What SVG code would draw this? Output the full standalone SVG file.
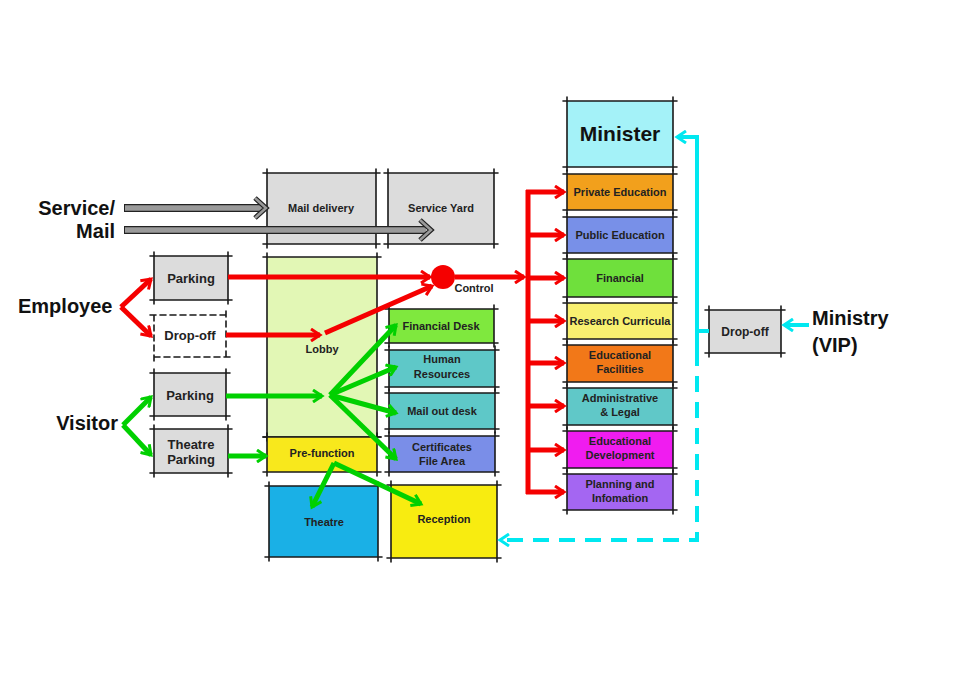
<svg xmlns="http://www.w3.org/2000/svg" width="955" height="700" viewBox="0 0 955 700">
<style>
.b{stroke:#1a1a1a;stroke-width:1.6;fill:none;stroke-linecap:round}
.t{font-family:"Liberation Sans",Arial,sans-serif;font-weight:bold;font-size:11px;fill:#222;text-anchor:middle}
.m{font-size:13px}
.big{font-family:"Liberation Sans",Arial,sans-serif;font-weight:bold;font-size:20px;fill:#111}
.r{stroke:#f50000;stroke-width:5;fill:none}
.g{stroke:#00d000;stroke-width:5;fill:none}
.c{stroke:#00e8f0;stroke-width:4;fill:none}
.gy{fill:#dcdcdc}
</style>
<defs>
<marker id="ar" viewBox="0 0 14 14" refX="11" refY="7" markerWidth="14" markerHeight="14" markerUnits="userSpaceOnUse" orient="auto"><path d="M2,1 L11,7 L2,13" fill="none" stroke="#f50000" stroke-width="3"/></marker>
<marker id="ag" viewBox="0 0 14 14" refX="11" refY="7" markerWidth="14" markerHeight="14" markerUnits="userSpaceOnUse" orient="auto"><path d="M2,1 L11,7 L2,13" fill="none" stroke="#00d000" stroke-width="3"/></marker>
<marker id="ac" viewBox="0 0 14 14" refX="11" refY="7" markerWidth="14" markerHeight="14" markerUnits="userSpaceOnUse" orient="auto"><path d="M2,1 L11,7 L2,13" fill="none" stroke="#00e8f0" stroke-width="3"/></marker>
</defs>
<rect width="955" height="700" fill="#fff"/>

<g id="service-mail">
<text class="big" x="115" y="215" text-anchor="end">Service/</text>
<text class="big" x="115" y="238" text-anchor="end">Mail</text>
</g>
<g id="employee"><text class="big" x="18" y="313">Employee</text></g>
<g id="visitor"><text class="big" x="118" y="430" text-anchor="end">Visitor</text></g>
<g id="ministry-vip">
<text class="big" x="812" y="325">Ministry</text>
<text class="big" x="812" y="352">(VIP)</text>
</g>

<g id="mail-delivery"><rect class="gy" x="267" y="173" width="109" height="71"/><path class="b" d="M263,173H380M376,169V248M380,244H263M267,248V169"/><text class="t" x="321" y="212">Mail delivery</text></g>
<g id="service-yard"><rect class="gy" x="388" y="173" width="106" height="71"/><path class="b" d="M384,173H498M494,169V248M498,244H384M388,248V169"/><text class="t" x="441" y="212">Service Yard</text></g>
<g id="lobby"><rect fill="#e2f7b5" x="267" y="257" width="110" height="180"/><path class="b" d="M263,257H381M377,253V441M381,437H263M267,441V253"/><text class="t" x="322" y="353">Lobby</text></g>
<g id="pre-function"><rect fill="#f8e81c" x="267" y="437" width="110" height="35"/><path class="b" d="M263,437H381M377,433V476M381,472H263M267,476V433"/><text class="t" x="322" y="457">Pre-function</text></g>
<g id="theatre"><rect fill="#1ab0e6" x="269" y="486" width="109" height="71"/><path class="b" d="M265,486H382M378,482V561M382,557H265M269,561V482"/><text class="t" x="324" y="526">Theatre</text></g>
<g id="reception"><rect fill="#f8ec10" x="391" y="485" width="106" height="73"/><path class="b" d="M387,485H501M497,481V562M501,558H387M391,562V481"/><text class="t" x="444" y="523">Reception</text></g>
<g id="financial-desk"><rect fill="#7fe83e" x="389" y="309" width="105" height="34"/><path class="b" d="M385,309H498M494,305V347M498,343H385M389,347V305"/><text class="t" x="441" y="330">Financial Desk</text></g>
<g id="human-resources"><rect fill="#5ec8c8" x="389" y="350" width="106" height="37"/><path class="b" d="M385,350H499M495,346V391M499,387H385M389,391V346"/><text class="t" x="442" y="363">Human</text><text class="t" x="442" y="378">Resources</text></g>
<g id="mail-out-desk"><rect fill="#5ec8c8" x="389" y="393" width="106" height="36"/><path class="b" d="M385,393H499M495,389V433M499,429H385M389,433V389"/><text class="t" x="442" y="415">Mail out desk</text></g>
<g id="certificates"><rect fill="#7a8ee8" x="389" y="436" width="106" height="36"/><path class="b" d="M385,436H499M495,432V476M499,472H385M389,476V432"/><text class="t" x="442" y="451">Certificates</text><text class="t" x="442" y="465">File Area</text></g>

<g id="employee-parking"><rect class="gy" x="154" y="256" width="74" height="44"/><path class="b" d="M150,256H232M228,252V304M232,300H150M154,304V252"/><text class="t m" x="191" y="283">Parking</text></g>
<g id="employee-drop-off"><rect fill="#fff" x="154" y="315" width="72" height="42"/><path class="b" stroke-dasharray="6,4" d="M150,315H230M226,311V361M230,357H150M154,361V311"/><text class="t m" x="190" y="340">Drop-off</text></g>
<g id="visitor-parking"><rect class="gy" x="154" y="373" width="72" height="43"/><path class="b" d="M150,373H230M226,369V420M230,416H150M154,420V369"/><text class="t m" x="190" y="400">Parking</text></g>
<g id="theatre-parking"><rect class="gy" x="154" y="429" width="74" height="44"/><path class="b" d="M150,429H232M228,425V477M232,473H150M154,477V425"/><text class="t m" x="191" y="449">Theatre</text><text class="t m" x="191" y="464">Parking</text></g>

<g id="minister"><rect fill="#a4f2f8" x="567" y="101" width="106" height="66"/><path class="b" d="M563,101H677M673,97V171M677,167H563M567,171V97"/><text class="t" style="font-size:21px;fill:#111" x="620" y="141">Minister</text></g>
<g id="private-education"><rect fill="#f2a01c" x="567" y="174" width="106" height="36"/><path class="b" d="M563,174H677M673,170V214M677,210H563M567,214V170"/><text class="t" x="620" y="196">Private Education</text></g>
<g id="public-education"><rect fill="#7890e8" x="567" y="217" width="106" height="36"/><path class="b" d="M563,217H677M673,213V257M677,253H563M567,257V213"/><text class="t" x="620" y="239">Public Education</text></g>
<g id="financial"><rect fill="#6fe03c" x="567" y="259" width="106" height="38"/><path class="b" d="M563,259H677M673,255V301M677,297H563M567,301V255"/><text class="t" x="620" y="282">Financial</text></g>
<g id="research-curricula"><rect fill="#f8f070" x="567" y="303" width="106" height="36"/><path class="b" d="M563,303H677M673,299V343M677,339H563M567,343V299"/><text class="t" x="620" y="325">Research Curricula</text></g>
<g id="educational-facilities"><rect fill="#f27818" x="567" y="345" width="106" height="37"/><path class="b" d="M563,345H677M673,341V386M677,382H563M567,386V341"/><text class="t" x="620" y="359">Educational</text><text class="t" x="620" y="373">Facilities</text></g>
<g id="administrative-legal"><rect fill="#60c8c8" x="567" y="388" width="106" height="37"/><path class="b" d="M563,388H677M673,384V429M677,425H563M567,429V384"/><text class="t" x="620" y="402">Administrative</text><text class="t" x="620" y="416">&amp; Legal</text></g>
<g id="educational-development"><rect fill="#f01cf0" x="567" y="431" width="106" height="37"/><path class="b" d="M563,431H677M673,427V472M677,468H563M567,472V427"/><text class="t" x="620" y="445">Educational</text><text class="t" x="620" y="459">Development</text></g>
<g id="planning-information"><rect fill="#a466f2" x="567" y="474" width="106" height="36"/><path class="b" d="M563,474H677M673,470V514M677,510H563M567,514V470"/><text class="t" x="620" y="488">Planning and</text><text class="t" x="620" y="502">Infomation</text></g>
<g id="vip-drop-off"><rect class="gy" x="709" y="310" width="72" height="43"/><path class="b" d="M705,310H785M781,306V357M785,353H705M709,357V306"/><text class="t" style="font-size:12px" x="745" y="336">Drop-off</text></g>

<g id="connectors">
<path d="M124,208H262M124,230H426" stroke="#222" stroke-width="8" fill="none"/>
<path d="M125,208H262M125,230H426" stroke="#9a9a9a" stroke-width="5.5" fill="none"/>
<path d="M255,198L266,208L255,218M420,220L431,230L420,240" stroke="#222" stroke-width="5" fill="none"/>
<path d="M255,198L266,208L255,218M420,220L431,230L420,240" stroke="#9a9a9a" stroke-width="2.5" fill="none"/>
<path class="r" d="M121,307L151,279" marker-end="url(#ar)"/>
<path class="r" d="M121,307L151,336" marker-end="url(#ar)"/>
<path class="r" d="M228,277H430" marker-end="url(#ar)"/>
<circle cx="443" cy="277" r="12" fill="#f50000"/>
<text class="t" x="474" y="292">Control</text>
<path class="r" d="M455,277H524" marker-end="url(#ar)"/>
<path class="r" d="M226,335H320" marker-end="url(#ar)"/>
<path class="r" d="M325,333L432,286" marker-end="url(#ar)"/>
<path class="r" d="M528,190V494"/>
<path class="r" d="M526,192H564" marker-end="url(#ar)"/>
<path class="r" d="M526,235H564" marker-end="url(#ar)"/>
<path class="r" d="M526,278H564" marker-end="url(#ar)"/>
<path class="r" d="M526,321H564" marker-end="url(#ar)"/>
<path class="r" d="M526,363H564" marker-end="url(#ar)"/>
<path class="r" d="M526,406H564" marker-end="url(#ar)"/>
<path class="r" d="M526,450H564" marker-end="url(#ar)"/>
<path class="r" d="M526,492H564" marker-end="url(#ar)"/>
<path class="g" d="M123,425L151,397" marker-end="url(#ag)"/>
<path class="g" d="M123,425L151,455" marker-end="url(#ag)"/>
<path class="g" d="M226,396H322" marker-end="url(#ag)"/>
<path class="g" d="M330,395L396,325" marker-end="url(#ag)"/>
<path class="g" d="M330,395L396,367" marker-end="url(#ag)"/>
<path class="g" d="M330,395L396,413" marker-end="url(#ag)"/>
<path class="g" d="M330,395L396,459" marker-end="url(#ag)"/>
<path class="g" d="M228,456H266" marker-end="url(#ag)"/>
<path class="g" d="M334,463L312,507" marker-end="url(#ag)"/>
<path class="g" d="M334,463L421,504" marker-end="url(#ag)"/>
<path class="c" d="M809,325H784" marker-end="url(#ac)"/>
<path class="c" d="M709,331H697V137H677" marker-end="url(#ac)"/>
<path class="c" d="M697,331V350"/>
<path class="c" d="M697,350V540H500" stroke-dasharray="16,10" marker-end="url(#ac)"/>
</g>
</svg>
